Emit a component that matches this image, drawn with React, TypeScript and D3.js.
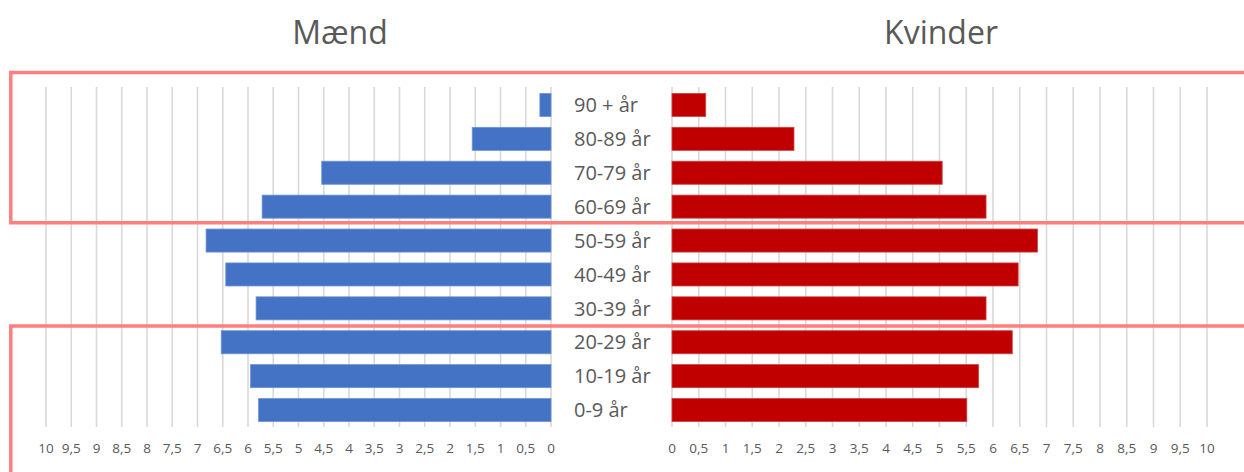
import React from "react";
import * as d3 from "d3";

const categories = ["90 + år", "80-89 år", "70-79 år", "60-69 år", "50-59 år", "40-49 år", "30-39 år", "20-29 år", "10-19 år", "0-9 år"];
const maleValues = [0.22, 1.56, 4.54, 5.72, 6.83, 6.44, 5.84, 6.53, 5.95, 5.79];
const femaleValues = [0.63, 2.28, 5.05, 5.87, 6.83, 6.47, 5.87, 6.36, 5.73, 5.51];
const tickValues = d3.range(0, 10.001, 0.5);
const titles = ["Mænd", "Kvinder"];

const W = 1244;
const H = 472;
const FONT = "'Open Sans', 'DejaVu Sans', sans-serif";
const TEXT = "#595959";
const GRID = "#D9D9D9";
const BOX = "#FF7F7F";

const fmt = (v: number) => String(v).replace(".", ",");

export default function App() {
  const xLeft = d3.scaleLinear().domain([0, 10]).range([551, 46]);
  const xRight = d3.scaleLinear().domain([0, 10]).range([672, 1207]);
  const y = d3.scaleBand<string>().domain(categories).range([88, 427]).paddingInner(0.32).paddingOuter(0.16);
  const gridTop = 87;
  const gridBottom = 427;

  return (
    <svg width={W} height={H} style={{ position: "absolute", left: 0, top: 0, display: "block", background: "#fff" }}>
      {/* titles */}
      <text x={340} y={43.5} textAnchor="middle" fontFamily={FONT} fontSize={32} fill={TEXT}>{titles[0]}</text>
      <text x={941} y={43.5} textAnchor="middle" fontFamily={FONT} fontSize={32} fill={TEXT}>{titles[1]}</text>

      {/* gridlines */}
      {tickValues.map((t) => (
        <line key={"gl" + t} x1={xLeft(t)} x2={xLeft(t)} y1={gridTop} y2={gridBottom} stroke={GRID} strokeWidth={1.6} />
      ))}
      {tickValues.map((t) => (
        <line key={"gr" + t} x1={xRight(t)} x2={xRight(t)} y1={gridTop} y2={gridBottom} stroke={GRID} strokeWidth={1.6} />
      ))}

      {/* bars */}
      {categories.map((c, i) => (
        <rect key={"m" + c} x={xLeft(maleValues[i])} y={y(c)} width={xLeft(0) - xLeft(maleValues[i])} height={y.bandwidth()}
          fill="#4472C4" stroke="#6E93D6" strokeWidth={0.8} />
      ))}
      {categories.map((c, i) => (
        <rect key={"f" + c} x={xRight(0)} y={y(c)} width={xRight(femaleValues[i]) - xRight(0)} height={y.bandwidth()}
          fill="#C00000" stroke="#D04040" strokeWidth={0.8} />
      ))}

      {/* category labels */}
      {categories.map((c) => (
        <text key={"l" + c} x={574} y={(y(c) as number) + y.bandwidth() / 2 + 7.2} fontFamily={FONT} fontSize={20} fill={TEXT}>{c}</text>
      ))}

      {/* tick labels */}
      {tickValues.map((t) => (
        <text key={"tl" + t} x={xLeft(t)} y={453} textAnchor="middle" fontFamily={FONT} fontSize={13.5} fill={TEXT}>{fmt(t)}</text>
      ))}
      {tickValues.map((t) => (
        <text key={"tr" + t} x={xRight(t)} y={453} textAnchor="middle" fontFamily={FONT} fontSize={13.5} fill={TEXT}>{fmt(t)}</text>
      ))}

      {/* highlight boxes */}
      <path d={`M${W + 5},72.5 H10.8 V222.7 H${W + 5}`} fill="none" stroke={BOX} strokeWidth={3.5} />
      <path d={`M${W + 5},326 H10.8 V${H + 5}`} fill="none" stroke={BOX} strokeWidth={3.5} />
    </svg>
  );
}
